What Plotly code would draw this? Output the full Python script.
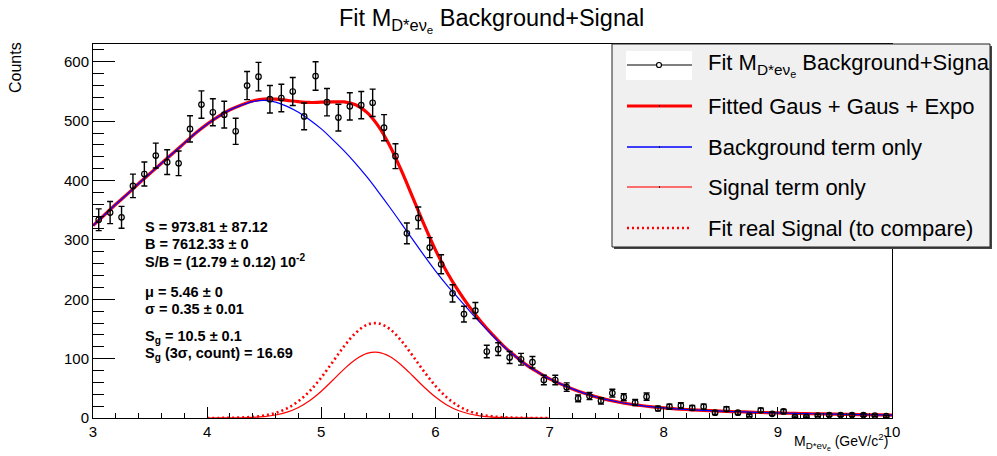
import plotly.graph_objects as go

# ---------------- data ----------------
bin_centers = [round(3.05 + 0.1 * i, 2) for i in range(70)]
counts = [334, 346, 338, 391, 411, 442, 431, 429, 487, 528,
          515, 511, 483, 560, 575, 537, 539, 550, 508, 576,
          532, 506, 525, 527, 531, 489, 441, 311, 337, 287,
          259, 210, 175, 181, 112, 116, 102, 99, 94, 64,
          64, 52, 33, 37, 29, 42, 35, 26, 36, 16,
          19, 21, 17, 19, 9, 15, 9, 4, 13, 7,
          11, 2, 2, 4, 5, 5, 5, 5, 4, 3]
count_err = [18.3, 18.6, 18.4, 19.8, 20.3, 21.0, 20.8, 20.7, 22.1, 23.0,
             22.7, 22.6, 22.0, 23.7, 24.0, 23.2, 23.2, 23.5, 22.5, 24.0,
             23.1, 22.5, 22.9, 23.0, 23.0, 22.1, 21.0, 17.6, 18.4, 16.9,
             16.1, 14.5, 13.2, 13.5, 10.6, 10.8, 10.1, 9.9, 9.7, 8.0,
             8.0, 7.2, 5.7, 6.1, 5.4, 6.5, 5.9, 5.1, 6.0, 4.0,
             4.4, 4.6, 4.1, 4.4, 3.0, 3.9, 3.0, 2.0, 3.6, 2.6,
             3.3, 1.4, 1.4, 2.0, 2.2, 2.2, 2.2, 2.2, 2.0, 1.7]

curve_x = [round(3.0 + 0.1 * i, 2) for i in range(71)]
background = [324, 342, 360, 377, 395, 412, 429, 446, 463, 480,
              495, 508, 519, 527, 533, 535, 532, 525, 515, 502,
              487, 469, 450, 429, 406, 381, 355, 328, 301, 274,
              248, 224, 202, 180, 159, 139, 120, 104, 89, 77,
              66, 57, 49, 42, 36, 31, 27, 23.6, 21.0, 18.8,
              17.0, 15.5, 14.3, 13.3, 12.4, 11.6, 10.9, 10.2, 9.6, 9.0,
              8.5, 8.0, 7.6, 7.2, 6.8, 6.4, 6.1, 5.8, 5.5, 5.2, 4.9]
total_fit = [324, 342, 360, 377, 395, 412, 429, 446, 463, 480,
             495.0, 508.1, 519.2, 527.4, 534.0, 537.4, 537.1, 534.9, 532.8, 531.5,
             532.1, 532.5, 532.4, 527.6, 514.8, 491.6, 458.6, 417.4, 372.2, 326.2,
             283.3, 246.0, 214.6, 186.7, 162.3, 140.5, 120.6, 104.2, 89.1, 77.0,
             66, 57, 49, 42, 36, 31, 27, 23.6, 21.0, 18.8,
             17.0, 15.5, 14.3, 13.3, 12.4, 11.6, 10.9, 10.2, 9.6, 9.0,
             8.5, 8.0, 7.6, 7.2, 6.8, 6.4, 6.1, 5.8, 5.5, 5.2, 4.9]

signal_x = [round(4.0 + 0.1 * i, 2) for i in range(31)]
signal_fit = [0.02, 0.05, 0.15, 0.42, 1.04, 2.39, 5.05, 9.87, 17.8, 29.5,
              45.1, 63.5, 82.4, 98.6, 108.8, 110.6, 103.6, 89.4, 71.2, 52.2,
              35.3, 22.0, 12.6, 6.67, 3.25, 1.46, 0.60, 0.23, 0.08, 0.03, 0.01]
signal_real = [0.04, 0.11, 0.32, 0.81, 1.93, 4.24, 8.63, 16.2, 28.3, 45.7,
               68.2, 94.4, 120.8, 143.1, 157.0, 159.4, 149.9, 130.5, 105.1, 78.4,
               54.1, 34.6, 20.5, 11.2, 5.68, 2.67, 1.16, 0.47, 0.17, 0.06, 0.02]

stats_lines = [
    ("S = 973.81 ± 87.12", 227),
    ("B = 7612.33 ± 0", 244),
    ("S/B = (12.79 ± 0.12) 10<sup>-2</sup>", 261),
    ("μ = 5.46 ± 0", 292),
    ("σ = 0.35 ± 0.01", 309),
    ("S<sub>g</sub> = 10.5 ± 0.1", 337),
    ("S<sub>g</sub> (3σ, count) = 16.69", 354),
]
legend_labels = [
    "Fit M<sub>D*eν<sub>e</sub></sub> Background+Signa",
    "Fitted Gaus + Gaus + Expo",
    "Background term only",
    "Signal term only",
    "Fit real Signal (to compare)",
]

# ---------------- layout geometry (pixels) ----------------
W, H = 997, 456
L, R, T, B = 93, 892, 44, 418
FONT = "Liberation Sans, Arial, Helvetica, sans-serif"


def px(x):
    return (x - L) / (R - L)


def py(y):
    return (B - y) / (B - T)


fig = go.Figure()

fig.add_trace(go.Scatter(x=curve_x, y=total_fit, mode="lines", line_shape="spline",
                         line=dict(color="#ff0000", width=3.2), showlegend=False,
                         hoverinfo="skip"))
fig.add_trace(go.Scatter(x=curve_x, y=background, mode="lines", line_shape="spline",
                         line=dict(color="#0000ff", width=1.2), showlegend=False,
                         hoverinfo="skip"))
fig.add_trace(go.Scatter(x=signal_x, y=signal_fit, mode="lines", line_shape="spline",
                         line=dict(color="#ff0000", width=1.2), showlegend=False,
                         hoverinfo="skip"))
fig.add_trace(go.Scatter(x=signal_x, y=signal_real, mode="lines", line_shape="spline",
                         line=dict(color="#ff0000", width=2.6, dash="2px,3px"),
                         showlegend=False, hoverinfo="skip"))
fig.add_trace(go.Scatter(x=bin_centers, y=counts, mode="markers",
                         marker=dict(symbol="circle-open", size=5.5, color="black",
                                     line=dict(width=1.2, color="black")),
                         error_y=dict(type="data", array=count_err, visible=True,
                                      color="black", thickness=1.4, width=3),
                         showlegend=False))

shapes = []
annotations = []

# legend box with shadow
shapes.append(dict(type="rect", xref="paper", yref="paper",
                   x0=px(614), x1=px(992), y0=py(249), y1=py(46),
                   fillcolor="#444444", line=dict(width=0), layer="above"))
shapes.append(dict(type="rect", xref="paper", yref="paper",
                   x0=px(612), x1=px(990), y0=py(247), y1=py(44),
                   fillcolor="#f0f0f0", line=dict(color="#222222", width=1), layer="above"))
# entry symbols
ent_y = [65, 106, 147, 187, 228]
sx0, sx1, sxc = 627, 692, 659
shapes.append(dict(type="rect", xref="paper", yref="paper",
                   x0=px(626), x1=px(692), y0=py(80), y1=py(51),
                   fillcolor="white", line=dict(width=0), layer="above"))
shapes.append(dict(type="line", xref="paper", yref="paper",
                   x0=px(sx0), x1=px(sx1), y0=py(ent_y[0]), y1=py(ent_y[0]),
                   line=dict(color="black", width=1.2), layer="above"))
shapes.append(dict(type="circle", xref="paper", yref="paper",
                   x0=px(sxc - 2.5), x1=px(sxc + 2.5), y0=py(ent_y[0] + 2.5), y1=py(ent_y[0] - 2.5),
                   fillcolor="white", line=dict(color="black", width=1.2), layer="above"))
for yy, col, wd, dash in [(ent_y[1], "#ff0000", 3.2, "solid"),
                          (ent_y[2], "#0000ff", 1.3, "solid"),
                          (ent_y[3], "#ff4040", 1.6, "solid"),
                          (ent_y[4], "#ff0000", 2.6, "2px,3px")]:
    shapes.append(dict(type="line", xref="paper", yref="paper",
                       x0=px(sx0), x1=px(sx1), y0=py(yy), y1=py(yy),
                       line=dict(color=col, width=wd, dash=dash), layer="above"))
for yy in ent_y[1:4]:
    shapes.append(dict(type="line", xref="paper", yref="paper",
                       x0=px(sxc), x1=px(sxc + 1), y0=py(yy), y1=py(yy),
                       line=dict(color="black", width=1.5), layer="above"))

for lab, yy in zip(legend_labels, ent_y):
    annotations.append(dict(text=lab, xref="paper", yref="paper", x=px(706), y=py(yy),
                            xanchor="left", yanchor="middle", showarrow=False,
                            font=dict(family=FONT, size=22, color="black")))

# stats text
for txt, yy in stats_lines:
    annotations.append(dict(text="<b>" + txt + "</b>", xref="paper", yref="paper",
                            x=px(143), y=py(yy), xanchor="left", yanchor="middle",
                            showarrow=False, font=dict(family=FONT, size=14.5, color="black")))

# title
annotations.append(dict(text="Fit M<sub>D*eν<sub>e</sub></sub> Background+Signal",
                        xref="paper", yref="paper", x=px(491), y=py(21),
                        xanchor="center", yanchor="middle", showarrow=False,
                        font=dict(family=FONT, size=23.5, color="black")))
# x axis title
annotations.append(dict(text="M<sub>D*eν<sub>e</sub></sub> (GeV/c<sup>2</sup>)",
                        xref="paper", yref="paper", x=px(890), y=py(441),
                        xanchor="right", yanchor="middle", showarrow=False,
                        font=dict(family=FONT, size=14, color="black")))
# y axis title
annotations.append(dict(text="Counts", xref="paper", yref="paper", x=px(15), y=py(68),
                        xanchor="center", yanchor="middle", textangle=-90, showarrow=False,
                        font=dict(family=FONT, size=16, color="black")))

fig.update_layout(
    width=W, height=H,
    margin=dict(l=L, r=W - R, t=T, b=H - B, pad=0),
    paper_bgcolor="white", plot_bgcolor="white",
    font=dict(family=FONT, size=15, color="black"),
    shapes=shapes, annotations=annotations, showlegend=False,
)
fig.update_xaxes(range=[3, 10], dtick=1, tick0=3, ticks="inside", ticklen=11, tickwidth=1,
                 tickcolor="black", showline=True, linecolor="black", linewidth=1, mirror=True,
                 showgrid=False, zeroline=False, tickfont=dict(size=15),
                 minor=dict(dtick=0.2, ticks="inside", ticklen=5, tickcolor="black", showgrid=False))
fig.update_yaxes(range=[0, 630], dtick=100, tick0=0, ticks="inside", ticklen=22, tickwidth=1,
                 tickcolor="black", showline=True, linecolor="black", linewidth=1, mirror=True,
                 showgrid=False, zeroline=False, tickfont=dict(size=15),
                 minor=dict(dtick=20, ticks="inside", ticklen=11, tickcolor="black", showgrid=False))

fig.write_html("out.html", config={"displayModeBar": False},
               post_script="document.body.style.margin='0';document.body.style.overflow='hidden';")
